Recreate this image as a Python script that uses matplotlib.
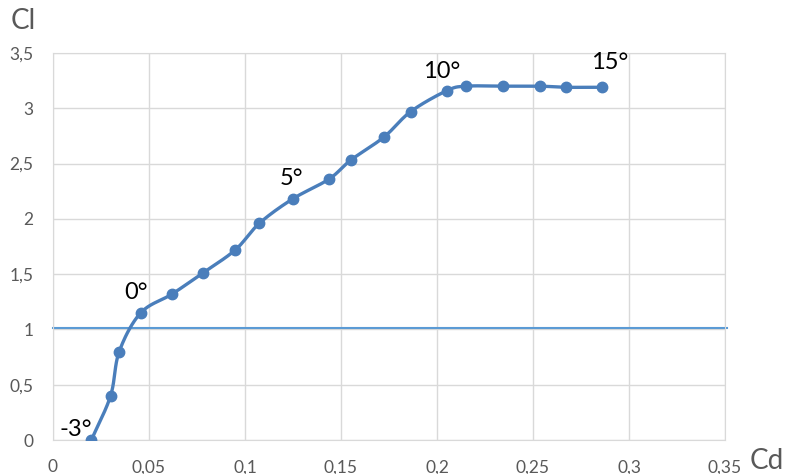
import numpy as np
import matplotlib
matplotlib.use("Agg")
import matplotlib.pyplot as plt

# polar data (Cd, Cl) and angle labels
cd = [0.020, 0.030, 0.0345, 0.0457, 0.062, 0.078, 0.095, 0.1075, 0.1248, 0.1438,
      0.155, 0.1724, 0.1863, 0.2052, 0.2151, 0.2345, 0.2535, 0.2672, 0.286]
cl = [0.00, 0.40, 0.80, 1.15, 1.32, 1.51, 1.72, 1.96, 2.18, 2.36,
      2.53, 2.74, 2.97, 3.16, 3.20, 3.20, 3.20, 3.19, 3.19]
angle_idx = [0, 3, 8, 13, 18]
angle_txt = ["-3°", "0°", "5°", "10°", "15°"]
ref_cl = 1.01

x_ticks = [0, 0.05, 0.1, 0.15, 0.2, 0.25, 0.3, 0.35]
y_ticks = [0, 0.5, 1, 1.5, 2, 2.5, 3, 3.5]

plt.rcParams['font.family'] = ['Lato', 'DejaVu Sans']
blue = '#4a7ebb'
gray_txt = '#595959'


def smooth(x, y, n=20):
    # catmull-rom through the points, like excel's smoothed line
    x = np.asarray(x); y = np.asarray(y)
    px = np.concatenate([[2 * x[0] - x[1]], x, [2 * x[-1] - x[-2]]])
    py = np.concatenate([[2 * y[0] - y[1]], y, [2 * y[-1] - y[-2]]])
    xs, ys = [], []
    t = np.linspace(0, 1, n, endpoint=False)
    for i in range(1, len(px) - 2):
        for p, out in ((px, xs), (py, ys)):
            p0, p1, p2, p3 = p[i - 1], p[i], p[i + 1], p[i + 2]
            out.extend(0.5 * (2 * p1 + (-p0 + p2) * t + (2 * p0 - 5 * p1 + 4 * p2 - p3) * t ** 2
                              + (-p0 + 3 * p1 - 3 * p2 + p3) * t ** 3))
    xs.append(x[-1]); ys.append(y[-1])
    return np.array(xs), np.array(ys)


fig = plt.figure(figsize=(7.86, 4.74), dpi=100)
ax = fig.add_axes([0.0674, 0.0717, 0.8550, 0.8165])

sx, sy = smooth(cd, cl)
ax.plot(sx, sy, color=blue, lw=2.4, zorder=3, solid_capstyle='round')
ax.plot(cd, cl, 'o', color=blue, ms=7.5, zorder=4)
ax.axhline(ref_cl, color='#5b9bd5', lw=1.5, zorder=2, xmax=1.003, clip_on=False)

offsets = [(-23, 0), (-12, 7), (-9, 7), (-17, 6), (-8, 10)]
for i, txt, off in zip(angle_idx, angle_txt, offsets):
    ax.annotate(txt, (cd[i], cl[i]), xytext=off, textcoords='offset points',
                fontsize=17, color='black', ha='left', va='bottom')

ax.set_xlim(0, 0.35)
ax.set_ylim(0, 3.5)
ax.set_xticks(x_ticks)
ax.set_yticks(y_ticks)
ax.set_xticklabels([f"{v:g}".replace('.', ',') for v in x_ticks])
ax.set_yticklabels([f"{v:g}".replace('.', ',') for v in y_ticks])
ax.tick_params(length=0, labelsize=12.5, colors=gray_txt)
ax.tick_params(axis='x', pad=14)
ax.tick_params(axis='y', pad=14)
ax.grid(True, color='#d9d9d9', lw=1)
ax.set_axisbelow(True)
for s in ax.spines.values():
    s.set_color('#d9d9d9')

fig.text(0.014, 0.955, "Cl", fontsize=20, color=gray_txt, va='center', ha='left')
fig.text(0.997, 0.027, "Cd", fontsize=20, color=gray_txt, va='center', ha='right')

fig.savefig('out.png', dpi=100)
